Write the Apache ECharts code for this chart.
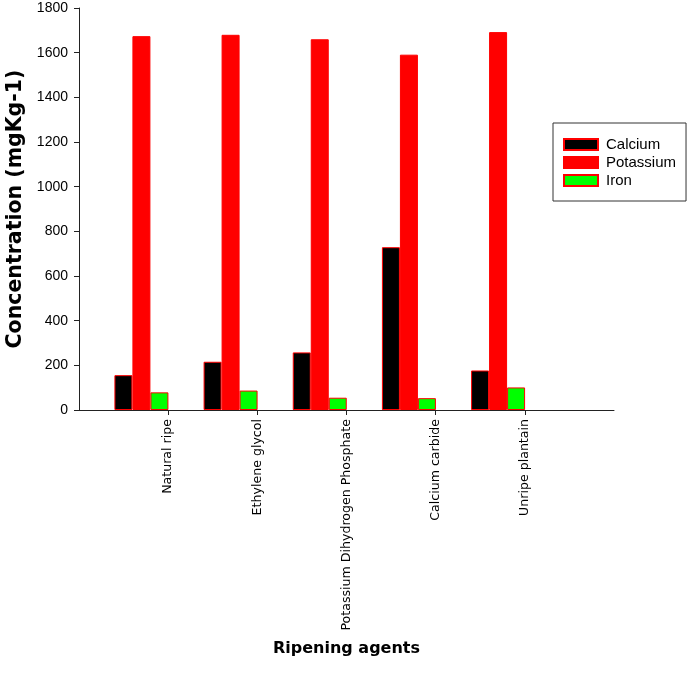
<!DOCTYPE html>
<html><head><meta charset="utf-8">
<script src="https://cdn.jsdelivr.net/npm/echarts@6/dist/echarts.min.js"></script>
<style>html,body{margin:0;padding:0;background:#fff}#c{width:688px;height:690px}</style>
</head><body><div id="c"></div>
<script>
const categories = ["Natural ripe", "Ethylene glycol", "Potassium Dihydrogen Phosphate", "Calcium carbide", "Unripe plantain"];
const calcium = [156, 216, 258, 729, 177];
const potassium = [1674, 1680, 1660, 1591, 1692];
const iron = [79, 87, 55, 53, 101];
const seriesNames = ["Calcium", "Potassium", "Iron"];
const seriesColors = ["#000000", "#ff0000", "#00ff00"];
const yTicks = [0, 200, 400, 600, 800, 1000, 1200, 1400, 1600, 1800];

const groupOffset = 0.7;
const allValues = [calcium, potassium, iron];
const chart = echarts.init(document.getElementById('c'), null, {renderer: 'canvas'});
chart.setOption({
  animation: false,
  backgroundColor: '#fff',
  grid: {left: 79, right: 74, top: 8, bottom: 280, containLabel: false, outerBoundsMode: 'none'},
  legend: {
    orient: 'vertical', left: 553, top: 123,
    data: seriesNames,
    icon: 'rect', itemWidth: 34, itemHeight: 11, itemGap: 3,
    padding: [14, 10, 13, 10],
    borderColor: '#333', borderWidth: 1,
    textStyle: {fontFamily: 'Liberation Sans', fontSize: 15, color: '#000', padding: [0, 0, 0, 3]}
  },
  xAxis: {
    type: 'value', min: 0, max: 6, interval: 1,
    name: 'Ripening agents', nameLocation: 'middle', nameGap: 231,
    nameTextStyle: {fontFamily: 'DejaVu Sans', fontWeight: 'bold', fontSize: 16, color: '#000'},
    axisLine: {show: true, lineStyle: {color: '#222', width: 1}},
    axisTick: {show: true, length: 5, customValues: [1, 2, 3, 4, 5], lineStyle: {color: '#222'}},
    splitLine: {show: false},
    axisLabel: {
      customValues: [1, 2, 3, 4, 5], rotate: 90, margin: 9,
      fontFamily: 'DejaVu Sans', fontSize: 12.6, color: '#000',
      formatter: v => categories[Math.round(v) - 1] || ''
    }
  },
  yAxis: {
    type: 'value', min: 0, max: 1800, interval: 200,
    name: 'Concentration (mgKg-1)', nameLocation: 'middle', nameGap: 53,
    nameTextStyle: {fontFamily: 'DejaVu Sans', fontWeight: 'bold', fontSize: 20.5, color: '#000'},
    axisLine: {show: true, lineStyle: {color: '#222', width: 1}},
    axisTick: {show: true, length: 5, lineStyle: {color: '#222'}},
    splitLine: {show: false},
    axisLabel: {margin: 11, fontFamily: 'Liberation Sans', fontSize: 14, color: '#000',
      formatter: v => yTicks.includes(v) ? String(v) : ''}
  },
  series: seriesNames.map((n, s) => ({
    name: n, type: 'bar', barWidth: 18, barGap: '0%',
    itemStyle: {color: seriesColors[s], borderColor: '#ff0000', borderWidth: 1},
    data: allValues[s].map((v, i) => [i + groupOffset, v])
  }))
});
</script></body></html>
